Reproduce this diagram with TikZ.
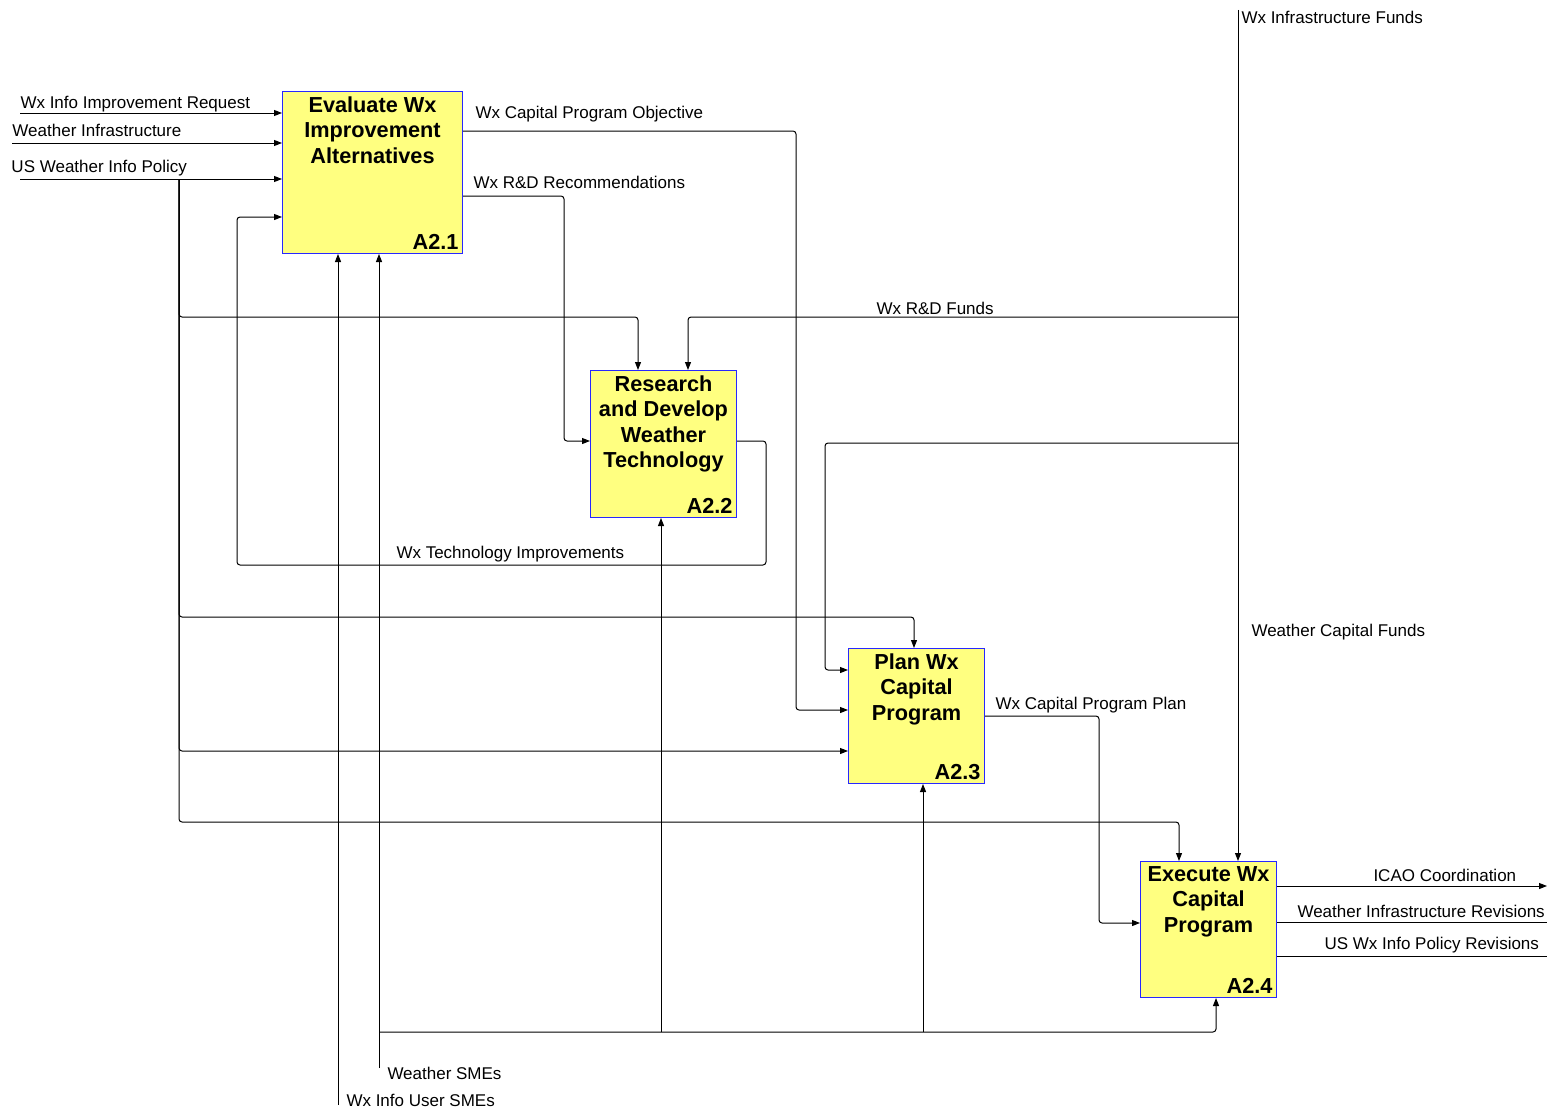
\documentclass[tikz,border=0pt]{standalone}
\usepackage{fontspec}
\setmainfont{Liberation Sans}
\usetikzlibrary{arrows.meta,positioning}
\definecolor{boxfill}{RGB}{255,255,128}
\definecolor{boxline}{RGB}{40,40,255}
\begin{document}
\begin{tikzpicture}[x=1pt,y=-1pt,->,>={Triangle[length=8pt,width=6pt]},line width=1pt,
                    rounded corners=3pt,font=\fontsize{17}{20}\selectfont]
  \tikzstyle{func}=[draw=boxline,fill=boxfill,line width=1pt,sharp corners,inner sep=0pt]
  \tikzstyle{title}=[font=\fontsize{21.7}{25.5}\selectfont\bfseries,align=center,inner sep=5pt,anchor=north]
  \tikzstyle{num}=[font=\fontsize{21.7}{25.5}\selectfont\bfseries,inner sep=4pt,anchor=south east]
  \tikzstyle{lab}=[inner sep=0pt,anchor=base west]

  \useasboundingbox (0,0) rectangle (1547,1108);

  \node[func,minimum width=180pt,minimum height=162pt,anchor=north west] (A1) at (282,91) {};
  \node[func,minimum width=146pt,minimum height=147pt,below right=116pt and 127pt of A1] (A2) {};
  \node[func,minimum width=136pt,minimum height=135pt,below right=130pt and 111pt of A2] (A3) {};
  \node[func,minimum width=136pt,minimum height=136pt,below right=77pt and 155pt of A3] (A4) {};

  \node[title] (t1) at (A1.north) {Evaluate Wx\\Improvement\\Alternatives};
  \node[title] (t2) at (A2.north) {Research\\and Develop\\Weather\\Technology};
  \node[title] (t3) at (A3.north) {Plan Wx\\Capital\\Program};
  \node[title] (t4) at (A4.north) {Execute Wx\\Capital\\Program};
  \node[num] (n1) at (A1.south east) {A2.1};
  \node[num] (n2) at (A2.south east) {A2.2};
  \node[num] (n3) at (A3.south east) {A2.3};
  \node[num] (n4) at (A4.south east) {A2.4};

  \coordinate (in1) at (20,113);
  \coordinate (in2) at (12,143);
  \coordinate (in3) at (20,179);
  \coordinate (pol) at (179,179);
  \coordinate (c1) at (638,317);
  \coordinate (c2) at (914,617);
  \coordinate (c3) at (179,751);
  \coordinate (c4) at (1179,822);
  \coordinate (obj) at (796,131);
  \coordinate (obj2) at (796,710);
  \coordinate (rd) at (564,196);
  \coordinate (rd2) at (564,441);
  \coordinate (fb2) at (766,565);
  \coordinate (fb3) at (237,217);
  \coordinate (fund) at (1238,10);
  \coordinate (f1) at (1238,317);
  \coordinate (f2) at (688,317);
  \coordinate (f3) at (1238,443);
  \coordinate (f4) at (825,443);
  \coordinate (f5) at (825,670);
  \coordinate (pl) at (1099,716);
  \coordinate (pl2) at (1099,923);
  \coordinate (o1) at (1547,886);
  \coordinate (o2) at (1547,922);
  \coordinate (o3) at (1547,956);
  \coordinate (m1) at (338,1105);
  \coordinate (m2) at (379,1068);
  \coordinate (m3) at (379,1032);
  \coordinate (m4) at (1216,1032);
  \coordinate (m5) at (661,1032);
  \coordinate (m6) at (923,1032);

  \draw (in1) -- (in1 -| A1.west);
  \draw (in2) -- (in2 -| A1.west);
  \draw (in3) -- (in3 -| A1.west);
  \draw (pol) |- (c1) -- (c1 |- A2.north);
  \draw (pol) |- (c2) -- (c2 |- A3.north);
  \draw (pol) -- (c3) -- (c3 -| A3.west);
  \draw (pol) |- (c4) -- (c4 |- A4.north);

  \draw (A1.east |- obj) -- (obj) -- (obj2) -- (obj2 -| A3.west);
  \draw (A1.east |- rd) -- (rd) -- (rd2) -- (rd2 -| A2.west);
  \draw (A2.east |- rd2) -| (fb2) -| (fb3) -- (fb3 -| A1.west);

  \draw (fund) -- (fund |- A4.north);
  \draw (f1) -- (f2) -- (f2 |- A2.north);
  \draw (f3) -- (f4) -- (f5) -- (f5 -| A3.west);
  \draw (A3.east |- pl) -- (pl) -- (pl2) -- (pl2 -| A4.west);

  \draw (A4.east |- o1) -- (o1);
  \draw[-] (A4.east |- o2) -- (o2);
  \draw[-] (A4.east |- o3) -- (o3);

  \draw (m1) -- (m1 |- A1.south);
  \draw (m2) -- (m2 |- A1.south);
  \draw (m3) -- (m4) -- (m4 |- A4.south);
  \draw (m5) -- (m5 |- A2.south);
  \draw (m6) -- (m6 |- A3.south);

  \node[lab] (l1) at (20,108) {Wx Info Improvement Request};
  \node[lab] (l2) at (12,136) {Weather Infrastructure};
  \node[lab] (l3) at (11,172) {US Weather Info Policy};
  \node[lab] (l4) at (475,118) {Wx Capital Program Objective};
  \node[lab] (l5) at (473,188) {Wx R\&D Recommendations};
  \node[lab] (l6) at (876,314) {Wx R\&D Funds};
  \node[lab] (l7) at (396,558) {Wx Technology Improvements};
  \node[lab] (l8) at (1251,636) {Weather Capital Funds};
  \node[lab] (l9) at (995,709) {Wx Capital Program Plan};
  \node[lab] (l10) at (1373,881) {ICAO Coordination};
  \node[lab] (l11) at (1297,917) {Weather Infrastructure Revisions};
  \node[lab] (l12) at (1324,949) {US Wx Info Policy Revisions};
  \node[lab] (l13) at (387,1079) {Weather SMEs};
  \node[lab] (l14) at (346,1106) {Wx Info User SMEs};
  \node[lab] (l15) at (1241,24) {Wx Infrastructure Funds};
\end{tikzpicture}
\end{document}
